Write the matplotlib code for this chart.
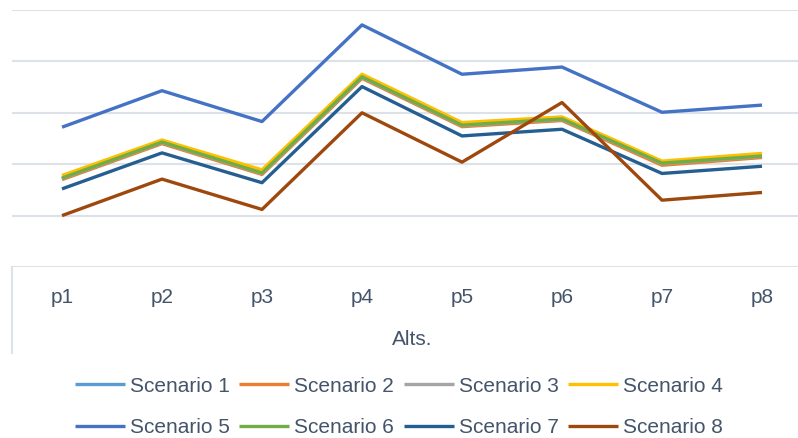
import numpy as np
import matplotlib
matplotlib.use("Agg")
import matplotlib.pyplot as plt
from matplotlib.lines import Line2D

alts = ["p1", "p2", "p3", "p4", "p5", "p6", "p7", "p8"]
names = ["Scenario 1", "Scenario 2", "Scenario 3", "Scenario 4",
         "Scenario 5", "Scenario 6", "Scenario 7", "Scenario 8"]

s1 = [1.72, 2.42, 1.82, 3.69, 2.75, 2.87, 2.01, 2.15]
s2 = [1.70, 2.40, 1.80, 3.67, 2.73, 2.85, 1.98, 2.13]
s3 = [1.72, 2.42, 1.82, 3.69, 2.75, 2.87, 2.01, 2.15]
s4 = [1.78, 2.47, 1.89, 3.75, 2.81, 2.92, 2.06, 2.21]
s5 = [2.72, 3.43, 2.83, 4.71, 3.75, 3.89, 3.01, 3.15]
s6 = [1.73, 2.43, 1.83, 3.70, 2.76, 2.88, 2.02, 2.16]
s7 = [1.52, 2.22, 1.64, 3.51, 2.55, 2.68, 1.82, 1.96]
s8 = [1.00, 1.71, 1.12, 3.00, 2.04, 3.20, 1.30, 1.45]
series = [s1, s2, s3, s4, s5, s6, s7, s8]

colors = ["#5B9BD5", "#ED7D31", "#A5A5A5", "#FFC000",
          "#4472C4", "#70AD47", "#255E91", "#9E480E"]

txt = "#44546A"
grid_c = "#DDE2E9"
plt.rcParams.update({'font.family': ['Liberation Sans', 'DejaVu Sans'],
                     'font.size': 15})

W, H = 798, 438
fig = plt.figure(figsize=(W / 100, H / 100), dpi=100)
ax = fig.add_axes([12 / W, (H - 267) / H, 800 / W, 257 / H])

x = np.arange(len(alts))
lines = []
for ys, c, n in zip(series, colors, names):
    ln, = ax.plot(x, ys, color=c, lw=2.4, label=n, solid_capstyle='butt')
    lines.append(ln)

ax.set_xlim(-0.5, 7.5)
ax.set_ylim(0, 5)
ax.set_yticks(np.arange(0, 6, 1))
ax.set_yticklabels([])
ax.grid(axis='y', color=grid_c, lw=1.5)
ax.set_axisbelow(True)
for s in ax.spines.values():
    s.set_visible(False)
ax.set_xticks(x)
ax.set_xticklabels(alts, color=txt)
ax.tick_params(axis='both', length=0)
ax.tick_params(axis='x', pad=15)
ax.set_xlabel("Alts.", color=txt, labelpad=17)

# left border of the category axis box
fig.add_artist(Line2D([12 / W, 12 / W], [(H - 267) / H, (H - 353) / H],
                      color=grid_c, lw=1.5))

# legend filled row by row (matplotlib fills by column)
order = [0, 4, 1, 5, 2, 6, 3, 7]
fig.legend([lines[i] for i in order], [names[i] for i in order],
           loc='center', bbox_to_anchor=(0.5, (H - 407) / H), ncol=4,
           frameon=False, handlelength=2.4, handletextpad=0.25,
           columnspacing=0.45, labelspacing=1.1, labelcolor=txt,
           borderaxespad=0, borderpad=0)

fig.savefig("out.png", dpi=100)
